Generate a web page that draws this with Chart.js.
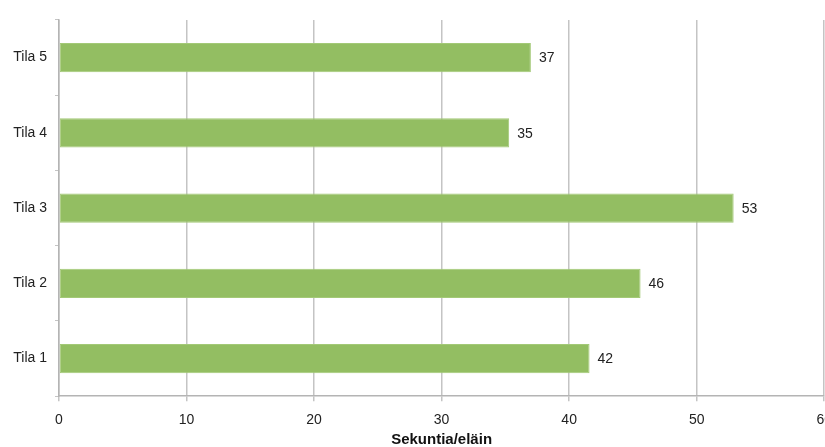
<!DOCTYPE html>
<html>
<head>
<meta charset="utf-8">
<script src="https://cdn.jsdelivr.net/npm/chart.js@4.4.1/dist/chart.umd.min.js"></script>
<style>
  html, body { margin: 0; padding: 0; background: #fff; overflow: hidden; }
  #wrap { width: 843px; height: 447px; }
</style>
</head>
<body>
<div id="wrap"><canvas id="chart"></canvas></div>
<script>
/* ── Data ───────────────────────────────────────────────────── */
var categories = ['Tila 5', 'Tila 4', 'Tila 3', 'Tila 2', 'Tila 1'];
var seconds    = [37.0, 35.3, 52.9, 45.6, 41.6];   // bar lengths as drawn
var shownText  = ['37', '35', '53', '46', '42'];   // labels printed beside bars
var xTicks     = [0, 10, 20, 30, 40, 50, 60];
var axisTitle  = 'Sekuntia/eläin';

Chart.defaults.font.family = "'Liberation Sans', Arial, sans-serif";
Chart.defaults.color = '#222';

/* ── Value labels at the bar ends ───────────────────────────── */
var barLabels = {
    id: 'barLabels',
    afterDatasetsDraw: function (chart) {
        var ctx = chart.ctx;
        var meta = chart.getDatasetMeta(0);
        ctx.save();
        ctx.font = "14px 'Liberation Sans', Arial, sans-serif";
        ctx.fillStyle = '#222';
        ctx.textBaseline = 'middle';
        ctx.textAlign = 'left';
        meta.data.forEach(function (bar, i) {
            ctx.fillText(shownText[i], bar.x + 8, bar.y + 1);
        });
        ctx.restore();
    }
};

new Chart(document.getElementById('chart'), {
    type: 'bar',
    data: {
        labels: categories,
        datasets: [{
            data: seconds,
            backgroundColor: '#93be62',
            borderColor: '#a3c977',
            borderWidth: 1,
            borderSkipped: false,
            categoryPercentage: 1,
            barPercentage: 0.39
        }]
    },
    options: {
        indexAxis: 'y',
        responsive: true,
        maintainAspectRatio: false,
        animation: false,
        layout: { padding: { top: 20, left: 0, right: 0, bottom: 0 } },
        plugins: {
            legend: { display: false },
            tooltip: { enabled: false }
        },
        scales: {
            x: {
                min: 0,
                max: 60,
                afterBuildTicks: function (s) {
                    s.ticks = xTicks.map(function (v) { return { value: v }; });
                },
                grid: { color: '#c4c4c4', lineWidth: 1.5, tickLength: 5 },
                border: { color: '#b4b4b4', width: 1.5 },
                ticks: { font: { size: 14 }, color: '#222', padding: 11, maxRotation: 0 },
                title: {
                    display: true,
                    text: axisTitle,
                    font: { size: 15, weight: 'bold' },
                    color: '#111',
                    padding: { top: -9, bottom: -2 }
                }
            },
            y: {
                afterFit: function (s) { s.width = 59; },
                grid: {
                    offset: true,
                    drawOnChartArea: false,
                    color: '#c4c4c4',
                    tickLength: 4
                },
                border: { color: '#b4b4b4', width: 1.5 },
                ticks: { font: { size: 14 }, color: '#222', padding: 8 }
            }
        }
    },
    plugins: [barLabels]
});
</script>
</body>
</html>
